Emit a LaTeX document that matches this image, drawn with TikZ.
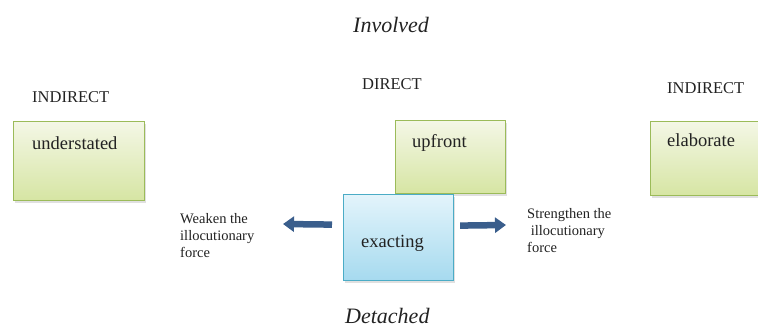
\documentclass[tikz,border=0pt]{standalone}
\usepackage{fontspec}
\setmainfont{Liberation Serif}
\newfontfamily\tnr{Liberation Serif}
\usetikzlibrary{arrows.meta}
\definecolor{gtop}{HTML}{F4F7E6}
\definecolor{gbot}{HTML}{D6E5A3}
\definecolor{gline}{HTML}{9BBB59}
\definecolor{btop}{HTML}{E3F4FB}
\definecolor{bbot}{HTML}{A6DAEF}
\definecolor{bline}{HTML}{4BACC6}
\definecolor{arrowc}{HTML}{3A5E8C}
\definecolor{txt}{HTML}{222222}
\tikzset{
  greenbox/.style={draw=gline, line width=1.2pt, top color=gtop, bottom color=gbot, inner sep=0pt, anchor=north west},
  bluebox/.style={draw=bline, line width=1.2pt, top color=btop, bottom color=bbot, inner sep=0pt, anchor=north west},
  shadowbox/.style={fill=black, opacity=0.12, draw=none, inner sep=0pt, anchor=north west},
  boxtext/.style={anchor=base west, inner sep=0pt, text=txt, font=\tnr\fontsize{18.5}{22}\selectfont},
  headtext/.style={anchor=base west, inner sep=0pt, text=txt, font=\tnr\fontsize{16.5}{20}\selectfont},
  titletext/.style={anchor=base west, inner sep=0pt, text=txt, font=\tnr\fontsize{22}{26}\selectfont\itshape},
  smalltext/.style={anchor=base west, inner sep=0pt, text=txt, align=left, font=\tnr\fontsize{14.5}{17}\selectfont},
  bigarrow/.style={draw=arrowc, line width=6.5pt, -{Triangle[width=15pt,length=11pt]}}
}
\begin{document}
\begin{tikzpicture}[x=1pt,y=-1pt]
\useasboundingbox (0,0) rectangle (758,332);
% titles
\node[titletext] (inv) at (353,32) {Involved};
\node[titletext] (det) at (345,323) {Detached};
\node[headtext] (ind1) at (32,102) {INDIRECT};
\node[headtext] (dir) at (362,89) {DIRECT};
\node[headtext] (ind2) at (667,93) {INDIRECT};
% shadows
\node[shadowbox, minimum width=131pt, minimum height=79pt] (sh1) at (15,124) {};
\node[shadowbox, minimum width=110pt, minimum height=73pt] (sh2) at (397,123) {};
\node[shadowbox, minimum width=112pt, minimum height=74pt] (sh3) at (652,124) {};
% green boxes
\node[greenbox, minimum width=131pt, minimum height=79pt] (under) at (13,121) {};
\node[greenbox, minimum width=110pt, minimum height=73pt] (upf) at (395,120) {};
\node[greenbox, minimum width=112pt, minimum height=74pt] (elab) at (650,121) {};
\node[boxtext] (undert) at (32,149) {understated};
\node[boxtext] (upft) at (412,147) {upfront};
\node[boxtext] (elabt) at (667,146) {elaborate};
% blue box
\node[shadowbox, minimum width=110pt, minimum height=86pt] (sh4) at (345,197) {};
\node[bluebox, minimum width=110pt, minimum height=86pt] (exact) at (343,194) {};
\node[boxtext] (exactt) at (361,247) {exacting};
% side labels (base = last line)
\node[smalltext] (weak) at (180,257) {Weaken the\\illocutionary\\force};
\node[smalltext] (strong) at (527,252) {Strengthen the\\\ illocutionary\\force};
% arrows
\coordinate (la) at ([xshift=-11pt,yshift=13pt]exact.west);
\coordinate (lb) at (283,224);
\coordinate (ra) at ([xshift=6pt,yshift=12pt]exact.east);
\coordinate (rb) at (506,225);
\draw[bigarrow] (la) -- (lb);
\draw[bigarrow] (ra) -- (rb);
\end{tikzpicture}
\end{document}
